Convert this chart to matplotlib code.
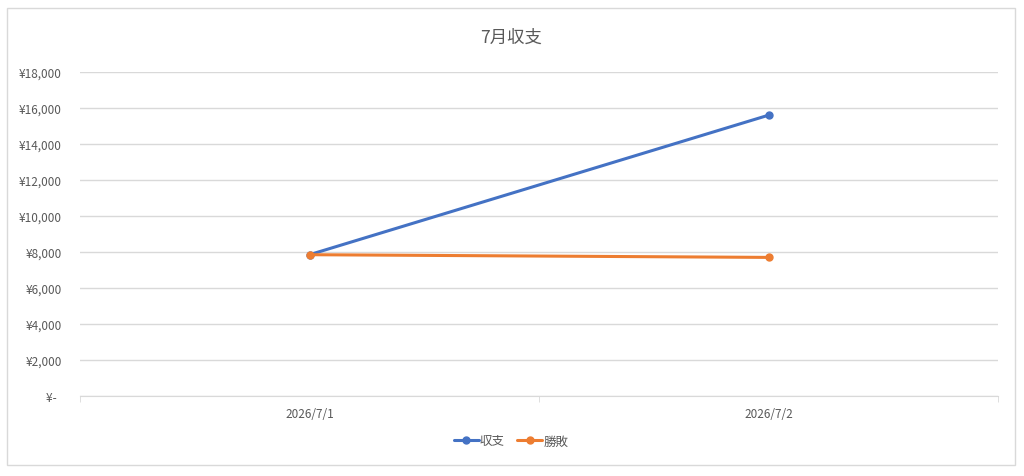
import matplotlib
matplotlib.use("Agg")
import matplotlib.pyplot as plt
from matplotlib.patches import Rectangle
from matplotlib.ticker import FuncFormatter, MultipleLocator

plt.rcParams['font.family'] = ['Noto Sans CJK JP', 'DejaVu Sans']

# data
dates = ["2026/7/1", "2026/7/2"]
shushi = [7850, 15600]   # 収支
shohai = [7850, 7700]    # 勝敗
series_names = ["収支", "勝敗"]
colors = ["#4472C4", "#ED7D31"]
title = "7月収支"

text_gray = "#595959"
grid_gray = "#D9D9D9"

fig = plt.figure(figsize=(10.24, 4.77), dpi=100)
fig.patch.set_facecolor("white")

# outer chart border
fig.add_artist(Rectangle((7 / 1024, 1 - 466 / 477), 1008 / 1024, 457 / 477,
                         transform=fig.transFigure, fill=False,
                         edgecolor="#D9D9D9", linewidth=1))

ax = fig.add_axes([80 / 1024, 1 - 397 / 477, 918 / 1024, 324 / 477])

x = [0.5, 1.5]
for vals, name, c in zip([shushi, shohai], series_names, colors):
    ax.plot(x, vals, color=c, linewidth=2.2, marker="o", markersize=5,
            label=name, solid_capstyle="round")

ax.set_xlim(0, 2)
ax.set_ylim(0, 18000)
ax.yaxis.set_major_locator(MultipleLocator(2000))


def yen(v, pos):
    if v == 0:
        return "¥-  "
    return "¥{:,.0f}".format(v)


ax.yaxis.set_major_formatter(FuncFormatter(yen))
ax.grid(axis="y", color=grid_gray, linewidth=1)
ax.set_axisbelow(True)

ax.set_xticks(x)
ax.set_xticklabels(dates)
ax.set_xticks([0, 1, 2], minor=True)
ax.tick_params(axis="x", which="major", length=0, pad=8, labelsize=8.5, colors=text_gray)
ax.tick_params(axis="x", which="minor", length=4, color=grid_gray, direction="out")
ax.tick_params(axis="y", length=0, pad=13, labelsize=8.5, colors=text_gray)

for s in ["top", "right", "left"]:
    ax.spines[s].set_visible(False)
ax.spines["bottom"].set_color(grid_gray)

fig.text(511 / 1024, 1 - 38 / 477, title, ha="center", va="center",
         fontsize=12.5, color=text_gray)

fig.legend(loc="center", bbox_to_anchor=(511 / 1024, 1 - 442 / 477), ncol=2,
           frameon=False, fontsize=9, labelcolor=text_gray,
           handlelength=2.0, handletextpad=0.1, columnspacing=1.0)

fig.savefig("out.png", dpi=100, facecolor="white")
